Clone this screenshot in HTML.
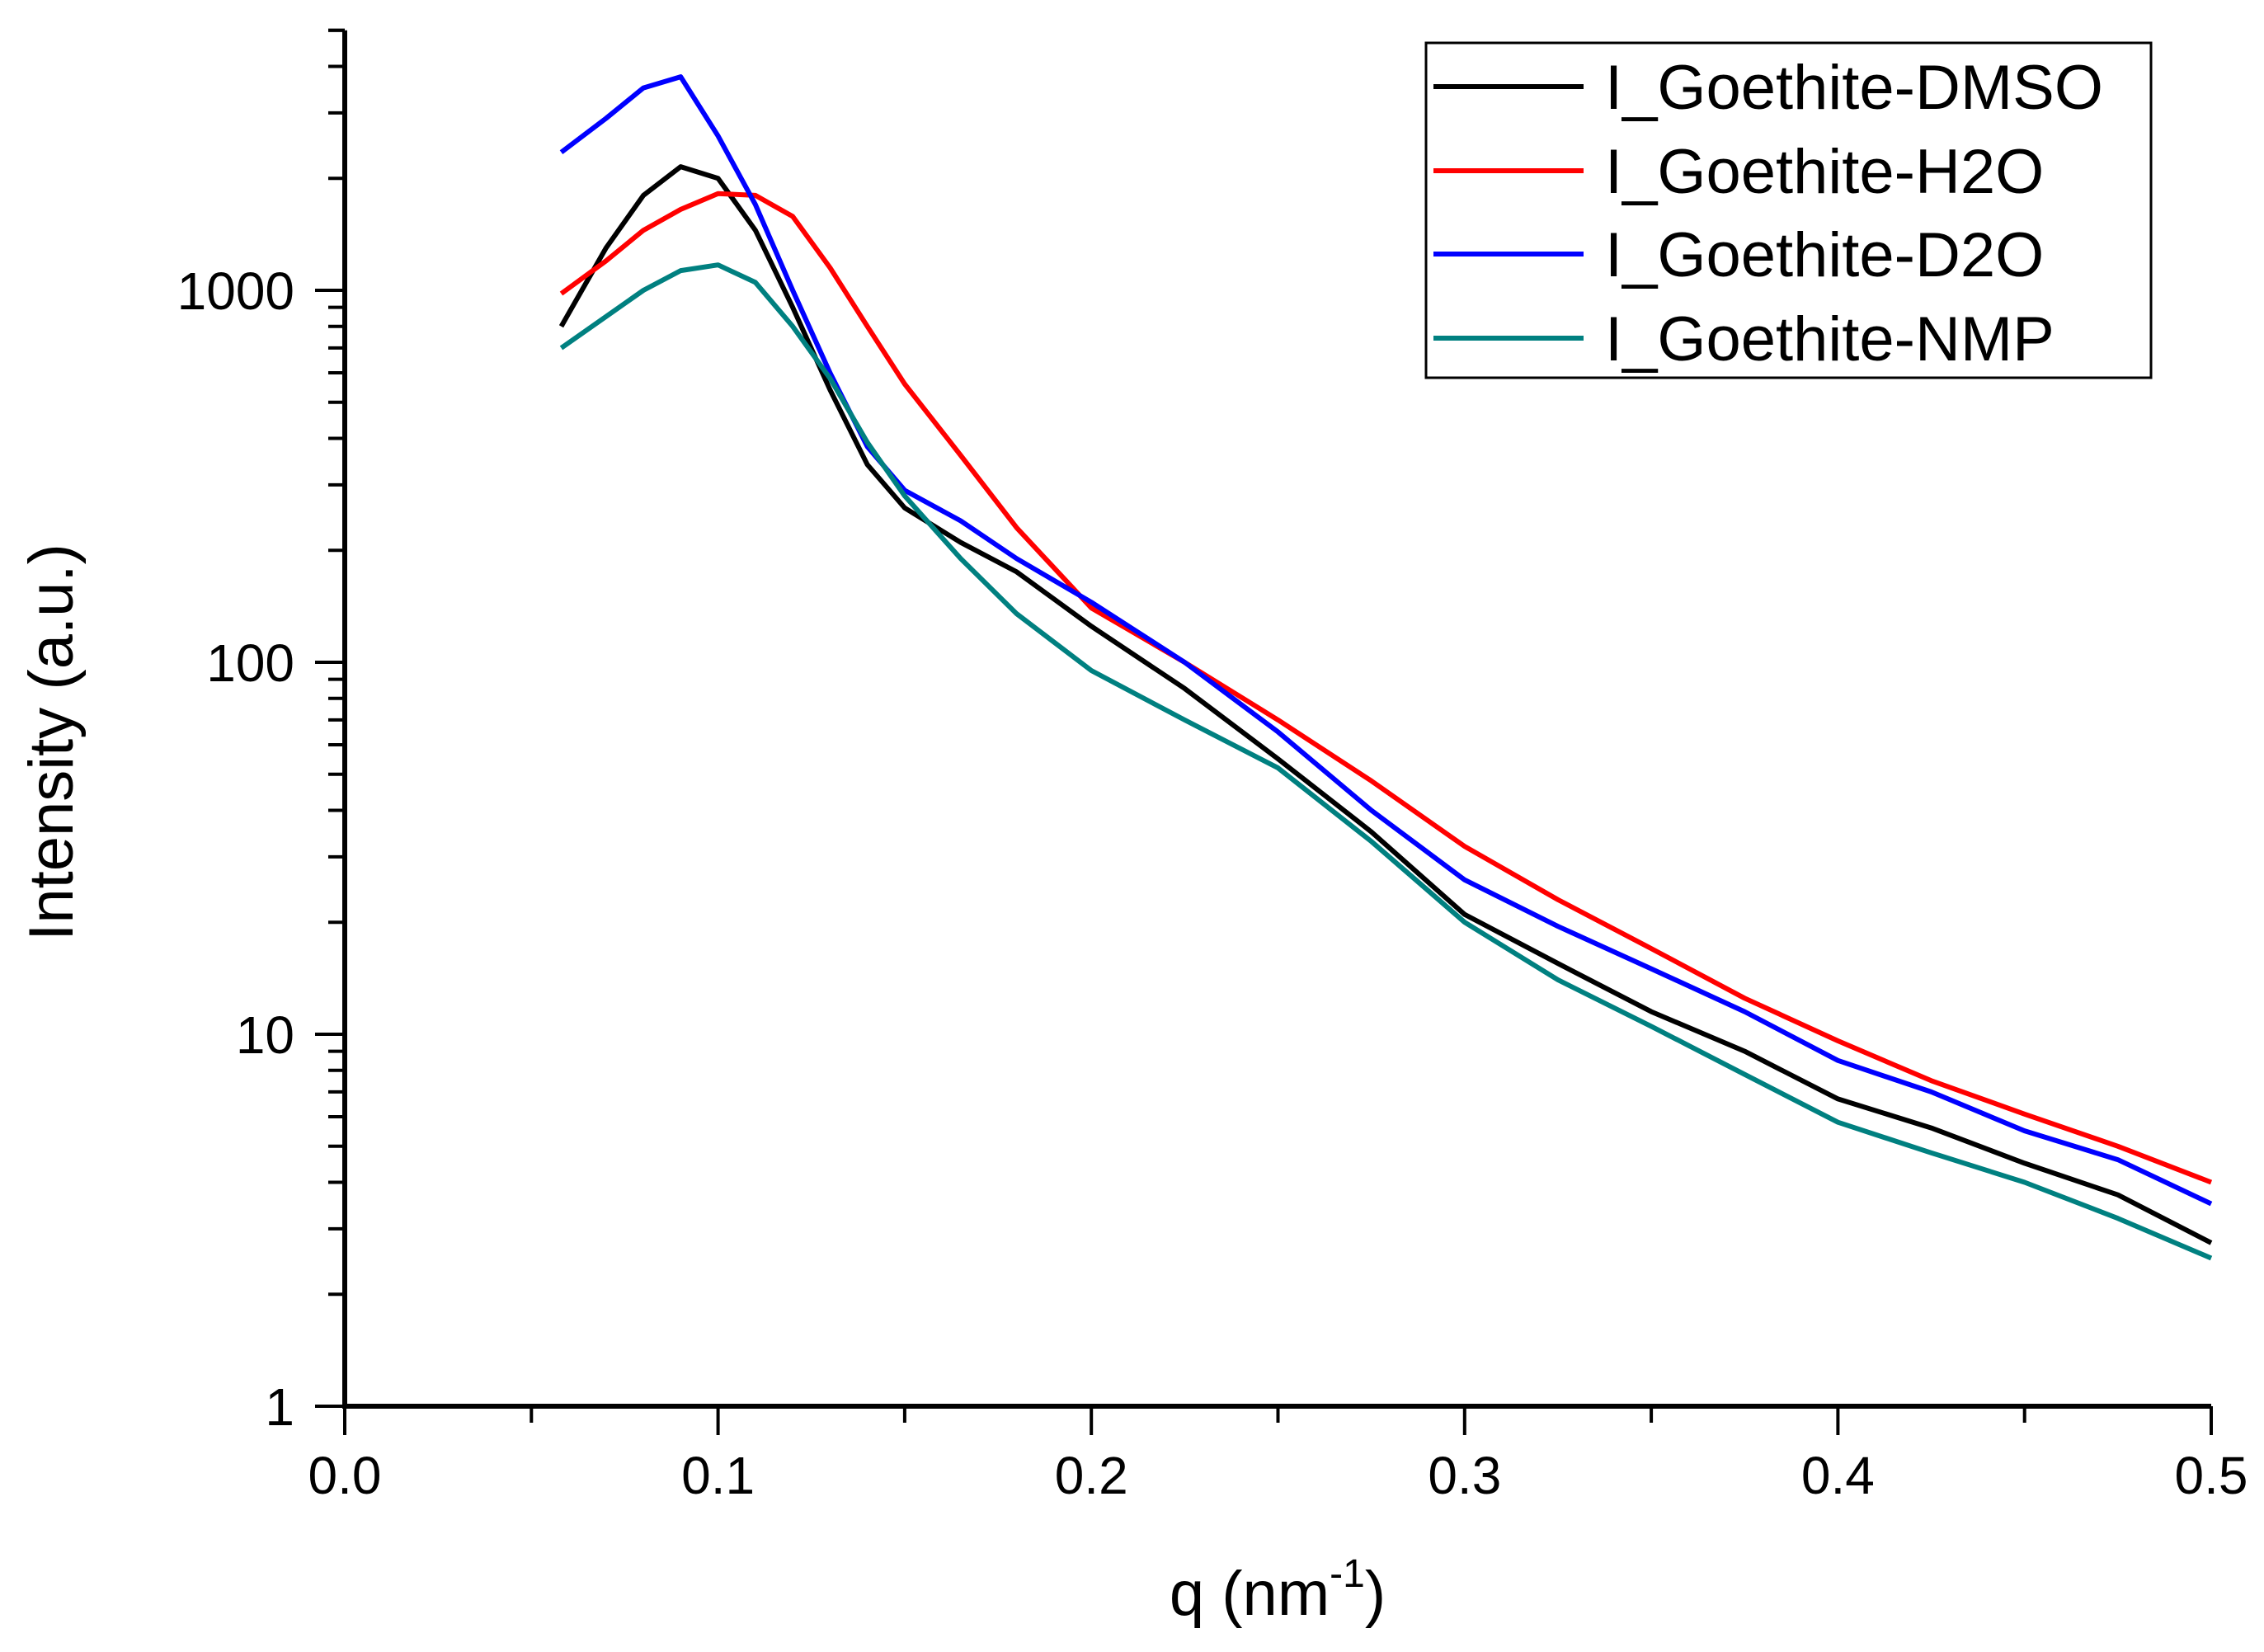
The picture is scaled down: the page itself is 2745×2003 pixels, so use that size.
<!DOCTYPE html>
<html><head><meta charset="utf-8"><style>
html,body{margin:0;padding:0;background:#fff;}
svg{display:block;font-family:"Liberation Sans",Arial,sans-serif;}
</style></head><body>
<svg id="chart" width="2745" height="2003" viewBox="0 0 2745 2003" xmlns="http://www.w3.org/2000/svg">
<g id="axes"></g>
<g id="series"></g>
<text x="0" y="0" font-size="76" text-anchor="middle" transform="translate(88,900) rotate(-90)">Intensity (a.u.)</text>
<text x="1549" y="1958" font-size="76" text-anchor="middle">q (nm<tspan font-size="48" dy="-34">-1</tspan><tspan dy="34">)</tspan></text>
<g id="legend"></g>
</svg>
<script>
const qValues = [0.058,0.07,0.08,0.09,0.1,0.11,0.12,0.13,0.14,0.15,0.165,0.18,0.2,0.225,0.25,0.275,0.3,0.325,0.35,0.375,0.4,0.425,0.45,0.475,0.5];
const dmsoValues = [800,1300,1800,2150,2000,1450,900,540,340,260,210,175,125,85,55,35,21,15.5,11.5,9,6.7,5.6,4.5,3.7,2.75];
const h2oValues = [980,1200,1450,1650,1820,1800,1580,1150,800,560,360,230,140,100,70,48,32,23,17,12.5,9.6,7.5,6.1,5,4];
const d2oValues = [2350,2900,3500,3750,2600,1700,1000,600,380,290,240,190,145,100,65,40,26,19.5,15,11.5,8.5,7,5.5,4.6,3.5];
const nmpValues = [700,850,1000,1130,1170,1050,800,580,390,280,190,135,95,70,52,33,20,14,10.5,7.8,5.8,4.8,4.0,3.2,2.5];
const seriesNames = ["I_Goethite-DMSO","I_Goethite-H2O","I_Goethite-D2O","I_Goethite-NMP"];
const xTickLabels = ["0.0","0.1","0.2","0.3","0.4","0.5"];
const yTickLabels = ["1","10","100","1000"];

const NS="http://www.w3.org/2000/svg";
const X0=418,X1=2681,Y0=1705,DEC=451;
function xs(q){return X0+q/0.5*(X1-X0);}
function ys(v){return Y0-Math.log10(v)*DEC;}
function mk(tag,attrs,parent){const e=document.createElementNS(NS,tag);for(const k in attrs)e.setAttribute(k,attrs[k]);parent.appendChild(e);return e;}
const axes=document.getElementById('axes');
const yTop=ys(5000);
let el=mk('line',{x1:X0,y1:yTop,x2:X0,y2:Y0+3,stroke:'#000','stroke-width':6},axes);


el=mk('line',{x1:X0-3,y1:Y0,x2:X1,y2:Y0,stroke:'#000','stroke-width':6},axes);


for(let d=0;d<4;d++){
  for(let m=1;m<=9;m++){
    const v=Math.pow(10,d)*m; if(v>5000)break;
    const y=ys(v);
    const len=m===1?36:20;
    el=mk('line',{x1:X0-len,y1:y,x2:X0,y2:y,stroke:'#000','stroke-width':4},axes);
    
    
  }
}
el=mk('line',{x1:X0-20,y1:ys(5000),x2:X0,y2:ys(5000),stroke:'#000','stroke-width':4},axes);


yTickLabels.forEach((t,i)=>{
  const e=mk('text',{x:357,y:ys(Math.pow(10,i))+23,'font-size':64,'text-anchor':'end'},axes);
  e.textContent=t;
  
  
});
for(let i=0;i<=10;i++){
  const x=xs(i*0.05);
  const len=i%2===0?35:20;
  el=mk('line',{x1:x,y1:Y0,x2:x,y2:Y0+len,stroke:'#000','stroke-width':4},axes);
  
  
}
xTickLabels.forEach((t,i)=>{
  const e=mk('text',{x:xs(i*0.1),y:1811,'font-size':64,'text-anchor':'middle'},axes);
  e.textContent=t;
  
  
});
const colors=['#000000','#ff0000','#0000ff','#008080'];
const data=[dmsoValues,h2oValues,d2oValues,nmpValues];
const sg=document.getElementById('series');
data.forEach((vals,si)=>{
  const pts=vals.map((v,i)=>xs(qValues[i]).toFixed(1)+','+ys(v).toFixed(1)).join(' ');
  const p=mk('polyline',{points:pts,fill:'none',stroke:colors[si],'stroke-width':6,'stroke-linejoin':'round'},sg);
  
  
});
const lg=document.getElementById('legend');
el=mk('rect',{x:1729,y:52,width:879,height:406,fill:'#fff',stroke:'#000','stroke-width':3},lg);


const ly=[105,207,308,410];
seriesNames.forEach((n,i)=>{
  const l=mk('line',{x1:1738,y1:ly[i],x2:1920,y2:ly[i],stroke:colors[i],'stroke-width':6},lg);
  
  
  const t=mk('text',{x:1946,y:ly[i]+27,'font-size':76},lg);
  t.textContent=n;
  
  
});
</script>
</body></html>
